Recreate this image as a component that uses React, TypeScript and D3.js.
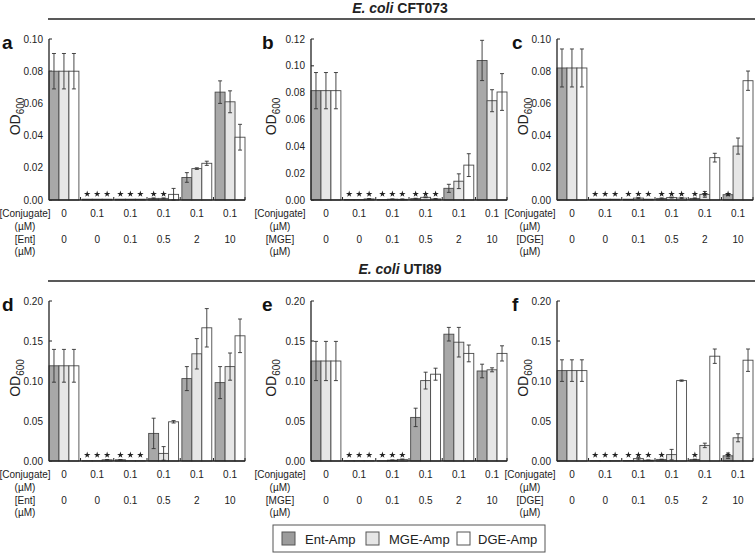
import { useEffect, useRef } from 'react';
import * as d3 from 'd3';

// ---- data ----
const seriesNames = ['Ent-Amp', 'MGE-Amp', 'DGE-Amp'];
const conjugateLabels = ['0', '0.1', '0.1', '0.1', '0.1', '0.1'];
const sideroLabels = ['0', '0', '0.1', '0.5', '2', '10'];
const sideroNames = ['[Ent]', '[MGE]', '[DGE]', '[Ent]', '[MGE]', '[DGE]'];
const panelLetters = ['a', 'b', 'c', 'd', 'e', 'f'];
const strainTitles = ['CFT073', 'UTI89'];
const yMaxes = [0.10, 0.12, 0.10, 0.20, 0.20, 0.20];
const yStep = [0.02, 0.02, 0.02, 0.05, 0.05, 0.05];

// panel a - CFT073, Ent
const aEnt = [0.080, 0.0005, 0.0005, 0.001, 0.014, 0.067];
const aMge = [0.080, 0.0005, 0.0005, 0.001, 0.0195, 0.061];
const aDge = [0.080, 0.0005, 0.0005, 0.0035, 0.0228, 0.039];
const aEntErr = [0.011, 0, 0, 0.0003, 0.003, 0.007];
const aMgeErr = [0.011, 0, 0, 0.0003, 0.0005, 0.0068];
const aDgeErr = [0.011, 0, 0, 0.0037, 0.0013, 0.008];
const aEntStar = [0, 1, 1, 1, 0, 0];
const aMgeStar = [0, 1, 1, 1, 0, 0];
const aDgeStar = [0, 1, 1, 0, 0, 0];

// panel b - CFT073, MGE
const bEnt = [0.0815, 0.0003, 0.0003, 0.001, 0.0087, 0.104];
const bMge = [0.0815, 0.0003, 0.0006, 0.002, 0.014, 0.074];
const bDge = [0.0815, 0.0008, 0.0005, 0.0008, 0.026, 0.0805];
const bEntErr = [0.0135, 0, 0, 0.0003, 0.003, 0.015];
const bMgeErr = [0.0135, 0, 0.0002, 0.0003, 0.0055, 0.0082];
const bDgeErr = [0.0135, 0.0003, 0.0003, 0.0003, 0.0085, 0.0137];
const bEntStar = [0, 1, 1, 1, 0, 0];
const bMgeStar = [0, 1, 1, 1, 0, 0];
const bDgeStar = [0, 1, 1, 1, 0, 0];

// panel c - CFT073, DGE
const cEnt = [0.082, 0.0005, 0.0005, 0.001, 0.001, 0.0033];
const cMge = [0.082, 0.0005, 0.0012, 0.0015, 0.0035, 0.0335];
const cDge = [0.082, 0.0005, 0.0005, 0.0012, 0.0263, 0.0741];
const cEntErr = [0.0118, 0, 0, 0.0003, 0.0003, 0.0006];
const cMgeErr = [0.0118, 0, 0.0003, 0.0003, 0.0018, 0.005];
const cDgeErr = [0.0118, 0, 0, 0.0003, 0.0027, 0.006];
const cEntStar = [0, 1, 1, 1, 1, 1];
const cMgeStar = [0, 1, 1, 1, 1, 0];
const cDgeStar = [0, 1, 1, 1, 0, 0];

// panel d - UTI89, Ent
const dEnt = [0.119, 0.0003, 0.0015, 0.0345, 0.103, 0.098];
const dMge = [0.119, 0.0003, 0.0003, 0.0095, 0.134, 0.118];
const dDge = [0.119, 0.0015, 0.0003, 0.049, 0.1665, 0.1565];
const dEntErr = [0.0205, 0, 0.0003, 0.019, 0.015, 0.02];
const dMgeErr = [0.0205, 0, 0, 0.0085, 0.019, 0.017];
const dDgeErr = [0.0205, 0.0003, 0, 0.0015, 0.024, 0.021];
const dEntStar = [0, 1, 1, 0, 0, 0];
const dMgeStar = [0, 1, 1, 0, 0, 0];
const dDgeStar = [0, 1, 1, 0, 0, 0];

// panel e - UTI89, MGE
const eEnt = [0.125, 0.0003, 0.0003, 0.0545, 0.1585, 0.1125];
const eMge = [0.125, 0.0003, 0.001, 0.1005, 0.1485, 0.114];
const eDge = [0.125, 0.0003, 0.002, 0.1085, 0.1345, 0.1345];
const eEntErr = [0.0245, 0, 0, 0.0115, 0.0085, 0.0085];
const eMgeErr = [0.0245, 0, 0.0003, 0.0105, 0.0185, 0.0025];
const eDgeErr = [0.0245, 0, 0.0005, 0.0075, 0.0105, 0.0095];
const eEntStar = [0, 1, 1, 0, 0, 0];
const eMgeStar = [0, 1, 1, 0, 0, 0];
const eDgeStar = [0, 1, 1, 0, 0, 0];

// panel f - UTI89, DGE
const fEnt = [0.113, 0.0003, 0.0005, 0.002, 0.002, 0.0065];
const fMge = [0.113, 0.0003, 0.003, 0.008, 0.0195, 0.029];
const fDge = [0.113, 0.0003, 0.001, 0.1005, 0.131, 0.126];
const fEntErr = [0.0135, 0, 0, 0.0003, 0.0003, 0.0035];
const fMgeErr = [0.0135, 0, 0.0015, 0.0065, 0.0028, 0.005];
const fDgeErr = [0.0135, 0, 0.0003, 0.0008, 0.009, 0.014];
const fEntStar = [0, 1, 1, 1, 1, 1];
const fMgeStar = [0, 1, 1, 0, 0, 0];
const fDgeStar = [0, 1, 1, 0, 0, 0];

const panelValues = [
    [aEnt, aMge, aDge], [bEnt, bMge, bDge], [cEnt, cMge, cDge],
    [dEnt, dMge, dDge], [eEnt, eMge, eDge], [fEnt, fMge, fDge],
];
const panelErrors = [
    [aEntErr, aMgeErr, aDgeErr], [bEntErr, bMgeErr, bDgeErr], [cEntErr, cMgeErr, cDgeErr],
    [dEntErr, dMgeErr, dDgeErr], [eEntErr, eMgeErr, eDgeErr], [fEntErr, fMgeErr, fDgeErr],
];
const panelStars = [
    [aEntStar, aMgeStar, aDgeStar], [bEntStar, bMgeStar, bDgeStar], [cEntStar, cMgeStar, cDgeStar],
    [dEntStar, dMgeStar, dDgeStar], [eEntStar, eMgeStar, eDgeStar], [fEntStar, fMgeStar, fDgeStar],
];

// ---- layout ----
const W = 756;
const H = 554;
const FONT = '"Liberation Sans", Arial, Helvetica, sans-serif';
const fills = ['#a8a8a8', '#e6e6e6', '#ffffff'];
const ink = '#222';
const barStroke = '#4a4a4a';

const colAxisX = [49, 311, 557];
const colYLabelX = [15, 271, 523];
const colLetterX = [2, 262, 512];
const colCatX = [25, 280, 530];
const plotWidth = 196;
const rowTop = [39, 301];
const rowBottom = [200, 461];
const rowTitleY = [13, 274];
const rowRuleY = [19, 281];

export default function App() {
    const svgRef = useRef<SVGSVGElement>(null);

    useEffect(() => {
        if (!svgRef.current) return;
        const svg = d3.select(svgRef.current);
        svg.selectAll('*').remove();

        svg.append('rect').attr('width', W).attr('height', H).attr('fill', '#fff');

        // --- strain titles + rules ---
        strainTitles.forEach((strain, r) => {
            svg.append('line')
                .attr('x1', 48).attr('x2', 755)
                .attr('y1', rowRuleY[r]).attr('y2', rowRuleY[r])
                .attr('stroke', ink).attr('stroke-width', 1.5);
            const t = svg.append('text')
                .attr('x', 400).attr('y', rowTitleY[r])
                .attr('text-anchor', 'middle')
                .attr('font-family', FONT).attr('font-size', 14).attr('font-weight', 'bold')
                .attr('fill', ink);
            t.append('tspan').attr('font-style', 'italic').text('E. coli ');
            t.append('tspan').text(strain);
        });

        panelLetters.forEach((letter, p) => {
            const col = p % 3;
            const row = Math.floor(p / 3);
            const x0 = colAxisX[col];
            const yTop = rowTop[row];
            const yBot = rowBottom[row];

            const x = d3.scaleBand<number>()
                .domain(d3.range(6))
                .range([x0, x0 + plotWidth])
                .paddingInner(0.1)
                .paddingOuter(0);
            const xs = d3.scaleBand<number>()
                .domain([0, 1, 2])
                .range([0, x.bandwidth()]);
            const y = d3.scaleLinear().domain([0, yMaxes[p]]).range([yBot, yTop]);

            const g = svg.append('g');

            // panel letter
            g.append('text')
                .attr('x', colLetterX[col]).attr('y', yTop + 10)
                .attr('font-family', FONT).attr('font-size', 19).attr('font-weight', 'bold')
                .attr('fill', '#111')
                .text(letter);

            // y label
            const yl = g.append('text')
                .attr('transform', `translate(${colYLabelX[col]}, ${(yTop + yBot) / 2 - 3}) rotate(-90)`)
                .attr('text-anchor', 'middle')
                .attr('dy', '0.35em')
                .attr('font-family', FONT).attr('font-size', 14).attr('fill', ink);
            yl.append('tspan').text('OD');
            yl.append('tspan').attr('font-size', 10).attr('dy', 4).text('600');

            // y ticks (inward) + labels
            const ticks = d3.range(0, yMaxes[p] + 1e-9, yStep[p]);
            ticks.forEach(tv => {
                g.append('line')
                    .attr('x1', x0).attr('x2', x0 + 3)
                    .attr('y1', y(tv)).attr('y2', y(tv))
                    .attr('stroke', ink).attr('stroke-width', 1);
                g.append('text')
                    .attr('x', x0 - 6).attr('y', y(tv))
                    .attr('dy', '0.35em')
                    .attr('text-anchor', 'end')
                    .attr('font-family', FONT).attr('font-size', 10).attr('fill', ink)
                    .text(d3.format('.2f')(tv));
            });

            // bars
            panelValues[p].forEach((vals, s) => {
                vals.forEach((v, gi) => {
                    const bx = (x(gi) as number) + (xs(s) as number);
                    g.append('rect')
                        .attr('x', bx).attr('y', y(v))
                        .attr('width', xs.bandwidth())
                        .attr('height', Math.max(0, yBot - y(v)))
                        .attr('fill', fills[s])
                        .attr('stroke', barStroke).attr('stroke-width', 0.9);
                });
            });

            // error bars + stars
            panelValues[p].forEach((vals, s) => {
                vals.forEach((v, gi) => {
                    const cx = (x(gi) as number) + (xs(s) as number) + xs.bandwidth() / 2;
                    const e = panelErrors[p][s][gi];
                    if (e > 0) {
                        const hi = y(v + e);
                        const lo = Math.min(yBot, y(v - e));
                        g.append('line')
                            .attr('x1', cx).attr('x2', cx).attr('y1', hi).attr('y2', lo)
                            .attr('stroke', '#333').attr('stroke-width', 0.9);
                        [hi, lo].forEach(yy => {
                            g.append('line')
                                .attr('x1', cx - 2).attr('x2', cx + 2).attr('y1', yy).attr('y2', yy)
                                .attr('stroke', '#333').attr('stroke-width', 0.9);
                        });
                    }
                    if (panelStars[p][s][gi]) {
                        // significance marks sit at a fixed height just above the baseline
                        g.append('path')
                            .attr('d', d3.symbol().type(d3.symbolStar).size(13)() as string)
                            .attr('transform', `translate(${cx}, ${yBot - 6})`)
                            .attr('fill', '#222');
                    }
                });
            });

            // axes lines on top
            g.append('line')
                .attr('x1', x0).attr('x2', x0)
                .attr('y1', yTop).attr('y2', yBot)
                .attr('stroke', ink).attr('stroke-width', 1.3);
            g.append('line')
                .attr('x1', x0).attr('x2', x0 + plotWidth)
                .attr('y1', yBot).attr('y2', yBot)
                .attr('stroke', ink).attr('stroke-width', 1.6);
            d3.range(1, 6).forEach(gi => {
                const tx = (x(gi) as number) - (x.step() - x.bandwidth()) / 2;
                g.append('line')
                    .attr('x1', tx).attr('x2', tx)
                    .attr('y1', yBot - 3).attr('y2', yBot)
                    .attr('stroke', ink).attr('stroke-width', 1);
            });
            g.append('line')
                .attr('x1', x0 + plotWidth).attr('x2', x0 + plotWidth)
                .attr('y1', yBot - 3).attr('y2', yBot)
                .attr('stroke', ink).attr('stroke-width', 1);

            // category rows
            const rowLabels = ['[Conjugate]', '(µM)', sideroNames[p], '(µM)'];
            const rowY = [yBot + 17, yBot + 29.5, yBot + 43, yBot + 54.5];
            rowLabels.forEach((lab, i) => {
                g.append('text')
                    .attr('x', colCatX[col]).attr('y', rowY[i])
                    .attr('text-anchor', 'middle')
                    .attr('font-family', FONT).attr('font-size', 10).attr('fill', ink)
                    .text(lab);
            });
            d3.range(6).forEach(gi => {
                const cx = (x(gi) as number) + x.bandwidth() / 2;
                g.append('text')
                    .attr('x', cx).attr('y', rowY[0])
                    .attr('text-anchor', 'middle')
                    .attr('font-family', FONT).attr('font-size', 10).attr('fill', ink)
                    .text(conjugateLabels[gi]);
                g.append('text')
                    .attr('x', cx).attr('y', rowY[2])
                    .attr('text-anchor', 'middle')
                    .attr('font-family', FONT).attr('font-size', 10).attr('fill', ink)
                    .text(sideroLabels[gi]);
            });
        });

        // --- legend ---
        const lg = svg.append('g');
        lg.append('rect')
            .attr('x', 273).attr('y', 525).attr('width', 272).attr('height', 27)
            .attr('fill', '#fff').attr('stroke', '#555').attr('stroke-width', 1);
        const swX = [282, 366, 457];
        const txX = [305, 389, 478];
        seriesNames.forEach((name, s) => {
            lg.append('rect')
                .attr('x', swX[s]).attr('y', 532).attr('width', 13).attr('height', 13)
                .attr('fill', s === 0 ? '#9c9c9c' : fills[s])
                .attr('stroke', '#555').attr('stroke-width', 1);
            lg.append('text')
                .attr('x', txX[s]).attr('y', 543.5)
                .attr('font-family', FONT).attr('font-size', 13).attr('fill', '#222')
                .text(name);
        });
    }, []);

    return (
        <svg
            ref={svgRef}
            width={W}
            height={H}
            style={{ position: 'absolute', left: 0, top: 0, display: 'block' }}
        />
    );
}
